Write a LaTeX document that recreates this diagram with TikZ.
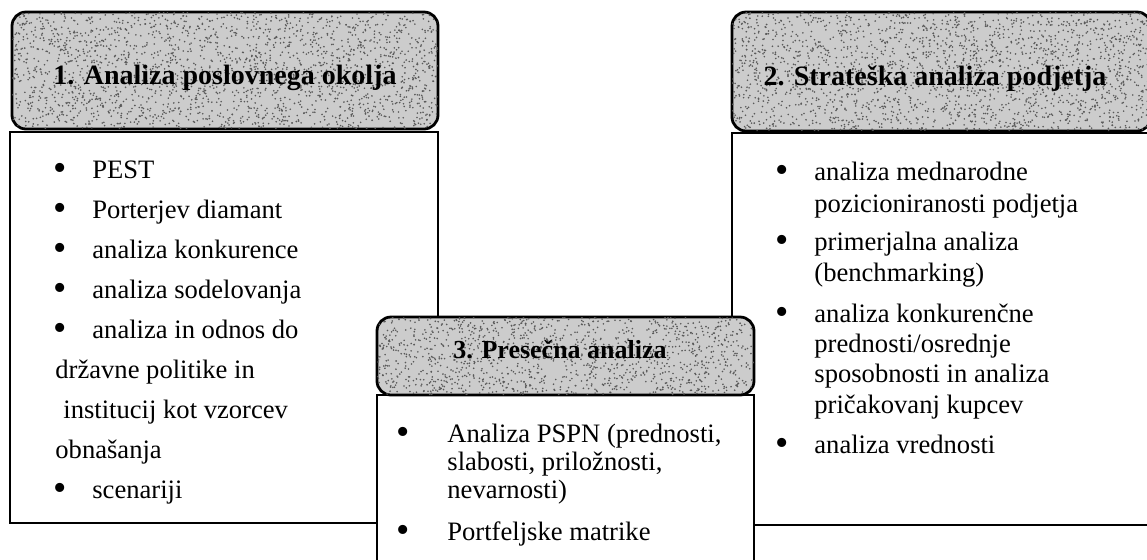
\documentclass[tikz,border=0pt]{standalone}
\usepackage{fontspec}
\setmainfont{Liberation Serif}
\usetikzlibrary{fit}
\begin{document}
\begin{tikzpicture}[x=0.5pt,y=-0.5pt,
  hdr/.style={draw=black, line width=1.4pt, rounded corners=7pt, fill=black!20, inner sep=0pt},
  box/.style={draw=black, line width=0.9pt, fill=white, inner sep=0pt},
  body/.style={font=\fontsize{13.3}{15}\selectfont, inner sep=0pt, anchor=base west},
  bul/.style={font=\fontsize{19}{20}\selectfont, inner sep=0pt, anchor=base, yshift=-1.2pt},
  htext/.style={font=\fontsize{14}{16}\selectfont\bfseries, inner sep=0pt, anchor=base},
  speck/.style={fill=black!65}]
\useasboundingbox (0,0) rectangle (1147,559);
\clip (0,0) rectangle (1147,559);
\pgfmathsetseed{4711}
% boxes
\node[box, fit={(10,132) (438,523)}] (boxL) {};
\node[box, fit={(732,133) (1170,525)}] (boxR) {};
\node[box, fit={(377,395) (754,600)}] (boxM) {};
% headers
\node[hdr, fit={(12,12) (438,129)}] (hdrL) {};
\node[hdr, fit={(732,12) (1151,131)}] (hdrR) {};
\node[hdr, fit={(377,317) (754,395)}] (hdrM) {};
% speckle texture
\begin{scope}
\clip[rounded corners=7pt] (12,12) rectangle (438,129);
\foreach \k in {1,...,2200} \fill[speck] ({12+426*rnd},{12+117*rnd}) circle[radius=0.45pt];
\end{scope}
\begin{scope}
\clip[rounded corners=7pt] (732,12) rectangle (1151,131);
\foreach \k in {1,...,2200} \fill[speck] ({732+419*rnd},{12+119*rnd}) circle[radius=0.45pt];
\end{scope}
\begin{scope}
\clip[rounded corners=7pt] (377,317) rectangle (754,395);
\foreach \k in {1,...,1300} \fill[speck] ({377+377*rnd},{317+78*rnd}) circle[radius=0.45pt];
\end{scope}
% header texts
\node[htext] (tL) at (225,84) {1. Analiza poslovnega okolja};
\node[htext] (tR) at (935,85) {2. Strateška analiza podjetja};
\node[htext, font=\fontsize{13}{15}\selectfont\bfseries] (tM) at (560,358) {3. Presečna analiza};
% left list
\node[bul] (bL1) at (60,178) {\textbullet};
\node[bul] (bL2) at (60,218) {\textbullet};
\node[bul] (bL3) at (60,258) {\textbullet};
\node[bul] (bL4) at (60,298) {\textbullet};
\node[bul] (bL5) at (60,338) {\textbullet};
\node[bul] (bL6) at (60,498) {\textbullet};
\node[body] (L1) at (92,178) {PEST};
\node[body] (L2) at (92,218) {Porterjev diamant};
\node[body] (L3) at (92,258) {analiza konkurence};
\node[body] (L4) at (92,298) {analiza sodelovanja};
\node[body] (L5) at (92,338) {analiza in odnos do};
\node[body] (L6) at (55,378) {državne politike in};
\node[body] (L7) at (63,418) {institucij kot vzorcev};
\node[body] (L8) at (55,458) {obnašanja};
\node[body] (L9) at (92,498) {scenariji};
% right list
\node[bul] (bR1) at (782,180) {\textbullet};
\node[bul] (bR2) at (782,250) {\textbullet};
\node[bul] (bR3) at (782,322) {\textbullet};
\node[bul] (bR4) at (782,453) {\textbullet};
\node[body] (R1) at (814,180) {analiza mednarodne};
\node[body] (R2) at (814,212) {pozicioniranosti podjetja};
\node[body] (R3) at (814,250) {primerjalna analiza};
\node[body] (R4) at (814,281) {(benchmarking)};
\node[body] (R5) at (814,322) {analiza konkurenčne};
\node[body] (R6) at (814,352) {prednosti/osrednje};
\node[body] (R7) at (814,382) {sposobnosti in analiza};
\node[body] (R8) at (814,413) {pričakovanj kupcev};
\node[body] (R9) at (814,453) {analiza vrednosti};
% middle list
\node[bul] (bM1) at (403,442) {\textbullet};
\node[bul] (bM2) at (403,540) {\textbullet};
\node[body] (M1) at (447,442) {Analiza PSPN (prednosti,};
\node[body] (M2) at (447,470) {slabosti, priložnosti,};
\node[body] (M3) at (447,498) {nevarnosti)};
\node[body] (M4) at (447,540) {Portfeljske matrike};
\end{tikzpicture}
\end{document}
